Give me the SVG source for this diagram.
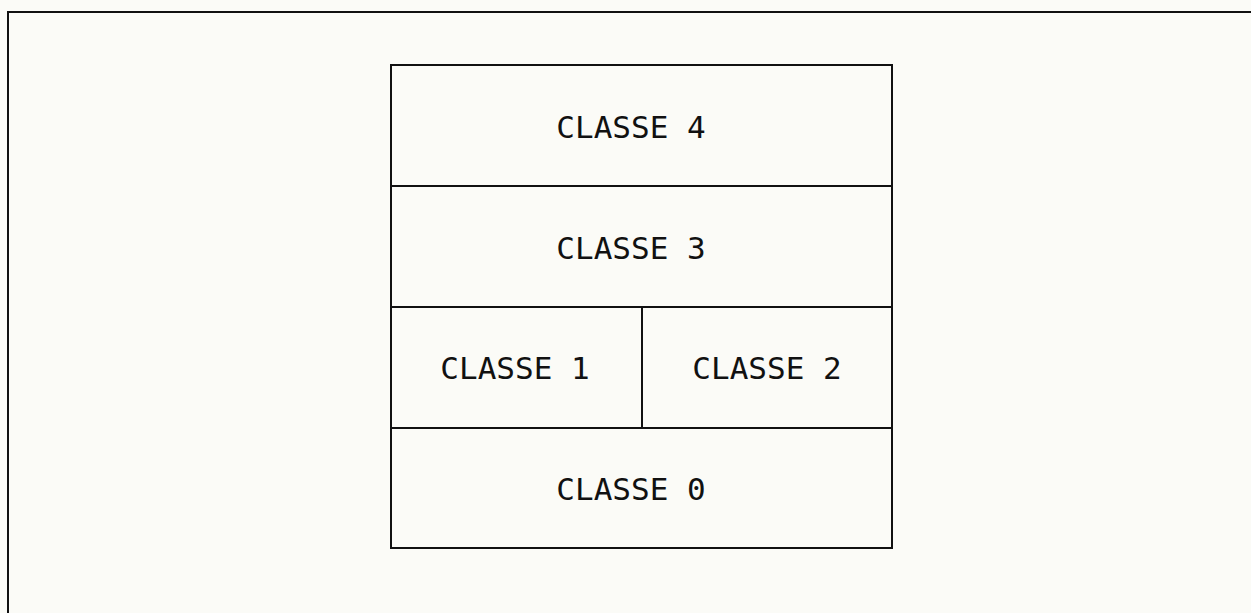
<svg xmlns="http://www.w3.org/2000/svg" width="1251" height="613" viewBox="0 0 1251 613">
<style>
.ln{fill:none;stroke:#111;stroke-width:2}
.t{font-family:"DejaVu Sans Mono","Liberation Mono",monospace;font-size:31px;fill:#111;text-anchor:middle}
</style>
<rect x="0" y="0" width="1251" height="613" fill="#fbfbf7"/>
<g id="frame"><polyline class="ln" points="8,613 8,12 1251,12"/></g>
<g id="connectors">
<rect class="ln" x="391" y="65" width="501" height="483"/>
<line class="ln" x1="391" y1="186" x2="892" y2="186"/>
<line class="ln" x1="391" y1="307" x2="892" y2="307"/>
<line class="ln" x1="391" y1="428" x2="892" y2="428"/>
<line class="ln" x1="642" y1="307" x2="642" y2="428"/>
</g>
<g id="classe4"><text class="t" x="631" y="138">CLASSE 4</text></g>
<g id="classe3"><text class="t" x="631" y="259">CLASSE 3</text></g>
<g id="classe1"><text class="t" x="515" y="379">CLASSE 1</text></g>
<g id="classe2"><text class="t" x="767" y="379">CLASSE 2</text></g>
<g id="classe0"><text class="t" x="631" y="500">CLASSE 0</text></g>
</svg>
